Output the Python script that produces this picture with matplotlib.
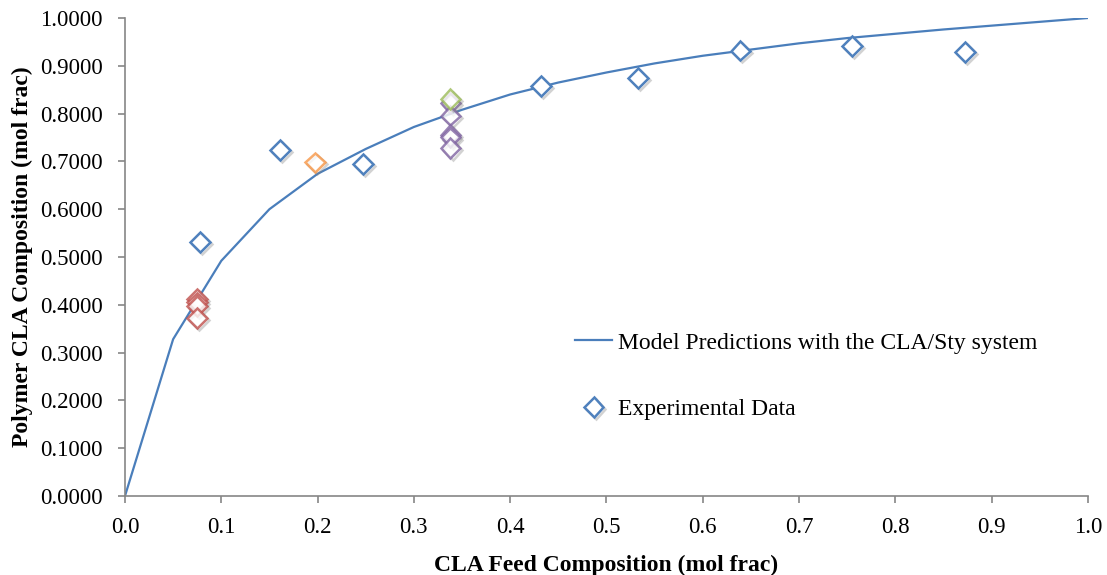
import matplotlib.pyplot as plt
import matplotlib.patheffects as pe

# model curve (CLA/Sty system)
model_feed = [0.0, 0.05, 0.10, 0.15, 0.20, 0.25, 0.30, 0.35, 0.40, 0.45, 0.50,
              0.55, 0.60, 0.65, 0.70, 0.75, 0.80, 0.85, 0.90, 0.95, 1.0]
model_poly = [0.0, 0.328, 0.492, 0.600, 0.674, 0.726, 0.772, 0.808, 0.840, 0.865, 0.886,
              0.905, 0.921, 0.934, 0.947, 0.958, 0.967, 0.976, 0.984, 0.992, 1.0]

# experimental data, one list per colour group
blue_feed = [0.078, 0.161, 0.247, 0.432, 0.533, 0.639, 0.755, 0.872]
blue_poly = [0.532, 0.724, 0.695, 0.858, 0.875, 0.932, 0.941, 0.929]
orange_feed = [0.197]
orange_poly = [0.698]
red_feed = [0.075, 0.075, 0.075, 0.075]
red_poly = [0.413, 0.405, 0.398, 0.372]
green_feed = [0.338]
green_poly = [0.830]
purple_feed = [0.338, 0.338, 0.338, 0.338, 0.338]
purple_poly = [0.822, 0.796, 0.755, 0.750, 0.728]

xticks = [0.0, 0.1, 0.2, 0.3, 0.4, 0.5, 0.6, 0.7, 0.8, 0.9, 1.0]
yticks = [0.0, 0.1, 0.2, 0.3, 0.4, 0.5, 0.6, 0.7, 0.8, 0.9, 1.0]

plt.rcParams['font.family'] = ['Liberation Serif', 'DejaVu Serif']

fig = plt.figure(figsize=(11.07, 5.75), dpi=100)
ax = fig.add_axes([0.1129, 0.1374, 0.8699, 0.8313])

shadow = [pe.SimpleLineShadow(offset=(1.5, -1.5), shadow_color='gray', alpha=0.35),
          pe.Normal()]

ax.plot(model_feed, model_poly, color='#4A7EBB', lw=1.6,
        label='Model Predictions with the CLA/Sty system')

groups = [
    (red_feed, red_poly, '#C0504D'),
    (purple_feed, purple_poly, '#8064A2'),
    (green_feed, green_poly, '#9BBB59'),
    (orange_feed, orange_poly, '#F79646'),
]
for fx, py, col in groups:
    ax.plot(fx, py, ls='none', marker='D', ms=10, mfc='white', mec=col,
            mew=1.8, alpha=0.8, path_effects=shadow)

ax.plot(blue_feed, blue_poly, ls='none', marker='D', ms=10, mfc='white',
        mec='#4F81BD', mew=1.8, path_effects=shadow, label='Experimental Data')

ax.set_xlim(0, 1.0)
ax.set_ylim(0, 1.0)
ax.set_xticks(xticks)
ax.set_yticks(yticks)
ax.set_xticklabels([f'{v:.1f}' for v in xticks])
ax.set_yticklabels([f'{v:.4f}' for v in yticks])
ax.tick_params(labelsize=16.5, color='#868686', length=5, width=1.2, direction='out')
ax.tick_params(axis='y', pad=11)
ax.tick_params(axis='x', pad=10)

for side in ['top', 'right']:
    ax.spines[side].set_visible(False)
for side in ['left', 'bottom']:
    ax.spines[side].set_color('#868686')
    ax.spines[side].set_linewidth(1.2)

ax.set_xlabel('CLA Feed Composition (mol frac)', fontsize=17, fontweight='bold', labelpad=12)
ax.set_ylabel('Polymer CLA Composition (mol frac)', fontsize=17, fontweight='bold', labelpad=5)

leg = ax.legend(loc='upper left', bbox_to_anchor=(0.467, 0.343), frameon=False,
                fontsize=17, labelspacing=1.9, handlelength=1.6, handletextpad=0.25,
                borderpad=0, borderaxespad=0)

fig.savefig('out.png', dpi=100)
